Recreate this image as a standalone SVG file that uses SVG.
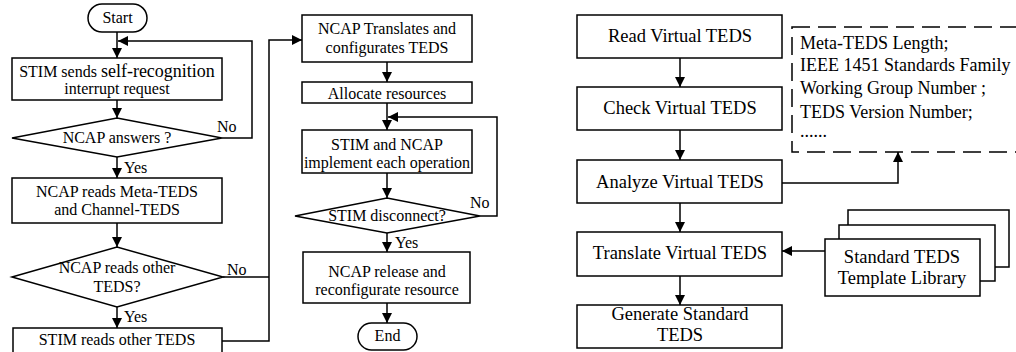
<svg xmlns="http://www.w3.org/2000/svg" width="1016" height="352" viewBox="0 0 1016 352">
<style>
.b{fill:#fff;stroke:#000;stroke-width:1.5}
.c{fill:none;stroke:#000;stroke-width:1.5}
.d{fill:none;stroke:#000;stroke-width:1.5;stroke-dasharray:18 8}
.l{font-size:16px;text-anchor:middle}
.r{font-size:18.5px;text-anchor:middle}
.s{font-size:16px}
.t{font-size:18px}
</style>
<defs>
<marker id="a" viewBox="0 0 10 10" refX="10" refY="5" markerWidth="10" markerHeight="10" markerUnits="userSpaceOnUse" orient="auto">
<path d="M0,0 L10,5 L0,10 Z" fill="#000"/>
</marker>
</defs>
<g id="connectors">
<path class="c" d="M117,32 V58" marker-end="url(#a)"/>
<path class="c" d="M117,100 V118" marker-end="url(#a)"/>
<path class="c" d="M222,138 H252 V41 H118" marker-end="url(#a)"/>
<path class="c" d="M117,157 V178" marker-end="url(#a)"/>
<path class="c" d="M117,223 V247" marker-end="url(#a)"/>
<path class="c" d="M117,307 V328" marker-end="url(#a)"/>
<path class="c" d="M223,277 H269"/>
<path class="c" d="M222,341 H269 V40 H302" marker-end="url(#a)"/>
<path class="c" d="M387,62 V82" marker-end="url(#a)"/>
<path class="c" d="M387,103 V130" marker-end="url(#a)"/>
<path class="c" d="M480,216 H497 V117 H388" marker-end="url(#a)"/>
<path class="c" d="M387,173 V198" marker-end="url(#a)"/>
<path class="c" d="M387,233 V252" marker-end="url(#a)"/>
<path class="c" d="M387,303 V323" marker-end="url(#a)"/>
<path class="c" d="M680,58 V87" marker-end="url(#a)"/>
<path class="c" d="M680,130 V160" marker-end="url(#a)"/>
<path class="c" d="M680,203 V232" marker-end="url(#a)"/>
<path class="c" d="M680,276 V305" marker-end="url(#a)"/>
<path class="c" d="M782,183 H898 V152" marker-end="url(#a)"/>
<path class="c" d="M825,251 H782" marker-end="url(#a)"/>
</g>
<g font-family="'Liberation Serif', 'Times New Roman', 'DejaVu Serif', serif" fill="#000">
<g id="labels">
<text class="s" x="217" y="132">No</text>
<text class="s" x="124" y="173">Yes</text>
<text class="s" x="227" y="275">No</text>
<text class="s" x="124" y="322">Yes</text>
<text class="s" x="470" y="208">No</text>
<text class="s" x="395" y="248">Yes</text>
</g>
<g id="start">
<rect class="b" x="88" y="4" width="59" height="28" rx="14"/>
<text class="l" x="117.5" y="23">Start</text>
</g>
<g id="stim-sends">
<rect class="b" x="12" y="58" width="210" height="42"/>
<text class="l" x="117" y="77">STIM sends <tspan font-size="18">self-recognition</tspan></text>
<text class="l" x="117" y="94">interrupt request</text>
</g>
<g id="ncap-answers">
<polygon class="b" points="12,138 117,118 222,138 117,157"/>
<text class="l" x="117" y="143">NCAP answers ?</text>
</g>
<g id="ncap-reads-meta">
<rect class="b" x="12" y="178" width="210" height="45"/>
<text class="l" x="117" y="197">NCAP reads Meta-TEDS</text>
<text class="l" x="117" y="215">and Channel-TEDS</text>
</g>
<g id="ncap-reads-other">
<polygon class="b" points="12,277 117,247 223,277 117,307"/>
<text class="l" x="117" y="273">NCAP reads other</text>
<text class="l" x="117" y="292">TEDS?</text>
</g>
<g id="stim-reads-other">
<rect class="b" x="13" y="328" width="209" height="32"/>
<text class="l" x="117" y="345">STIM reads other TEDS</text>
</g>
<g id="ncap-translates">
<rect class="b" x="302" y="15" width="170" height="47"/>
<text class="l" x="387" y="34">NCAP Translates and</text>
<text class="l" x="387" y="53">configurates TEDS</text>
</g>
<g id="allocate">
<rect class="b" x="302" y="82" width="170" height="21"/>
<text class="l" x="387" y="99">Allocate resources</text>
</g>
<g id="implement">
<rect class="b" x="302" y="130" width="170" height="43"/>
<text class="l" x="387" y="150">STIM and NCAP</text>
<text class="l" x="387" y="168">implement each operation</text>
</g>
<g id="disconnect">
<polygon class="b" points="295,216 387,198 480,216 387,233"/>
<text class="l" x="387" y="221">STIM disconnect?</text>
</g>
<g id="release">
<rect class="b" x="303" y="252" width="167" height="51"/>
<text class="l" x="387" y="277">NCAP release and</text>
<text class="l" x="387" y="295">reconfigurate resource</text>
</g>
<g id="end">
<rect class="b" x="358" y="323" width="59" height="27" rx="13.5"/>
<text class="l" x="387.5" y="341">End</text>
</g>
<g id="read-vteds">
<rect class="b" x="577" y="15" width="205" height="43"/>
<text class="r" x="680" y="42">Read Virtual TEDS</text>
</g>
<g id="check-vteds">
<rect class="b" x="577" y="87" width="205" height="43"/>
<text class="r" x="680" y="114">Check Virtual TEDS</text>
</g>
<g id="analyze-vteds">
<rect class="b" x="577" y="160" width="205" height="43"/>
<text class="r" x="680" y="188">Analyze Virtual TEDS</text>
</g>
<g id="translate-vteds">
<rect class="b" x="577" y="232" width="205" height="44"/>
<text class="r" x="680" y="259">Translate Virtual TEDS</text>
</g>
<g id="generate-teds">
<rect class="b" x="577" y="305" width="205" height="43"/>
<text class="r" x="680" y="320">Generate Standard</text>
<text class="r" x="680" y="341">TEDS</text>
</g>
<g id="meta-info">
<rect class="d" x="792" y="27" width="240" height="125"/>
<text class="t" x="800" y="49">Meta-TEDS Length;</text>
<text class="t" x="800" y="71">IEEE 1451 Standards Family</text>
<text class="t" x="800" y="94">Working Group Number ;</text>
<text class="t" x="800" y="118">TEDS Version Number;</text>
<text class="t" x="800" y="137">......</text>
</g>
<g id="template-library">
<rect class="b" x="848" y="210" width="161" height="57"/>
<rect class="b" x="839" y="225" width="156" height="56"/>
<rect class="b" x="825" y="239" width="155" height="57"/>
<text class="r" x="902" y="263">Standard TEDS</text>
<text class="r" x="902" y="284">Template Library</text>
</g>
</g>
</svg>
